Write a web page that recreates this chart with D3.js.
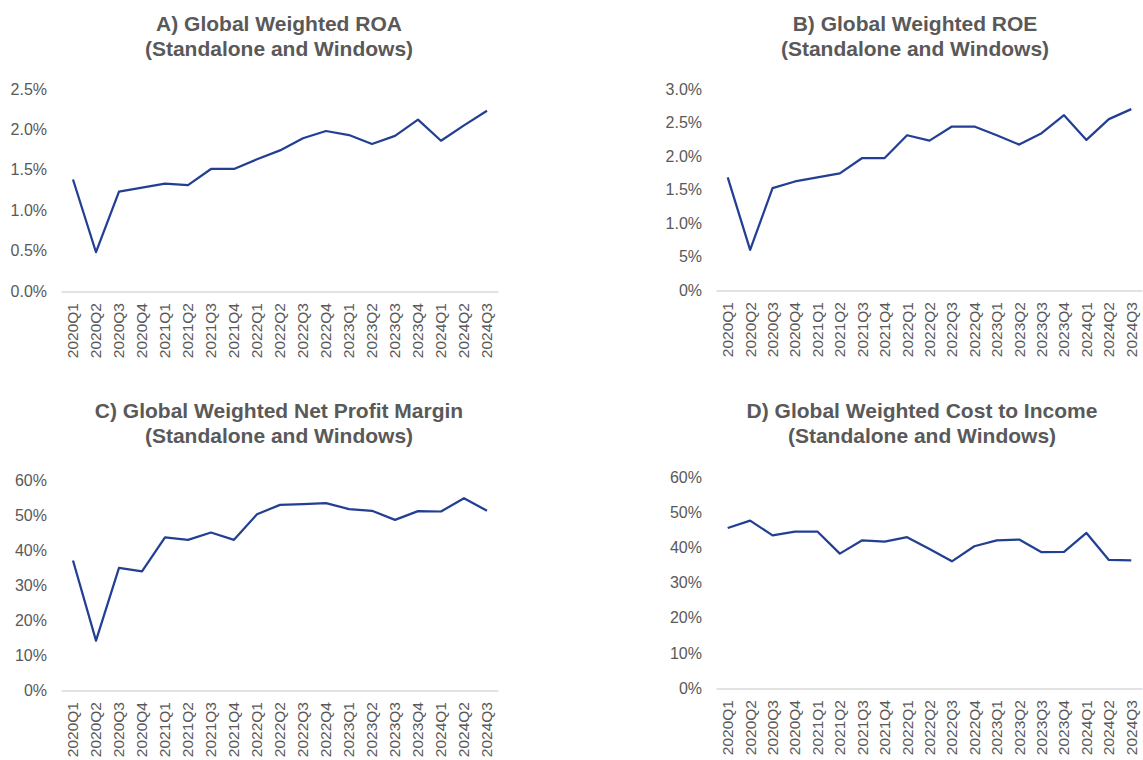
<!DOCTYPE html>
<html>
<head>
<meta charset="utf-8">
<script src="https://cdn.jsdelivr.net/npm/d3@7"></script>
<style>
  body { margin: 0; background: #fff; }
  svg { display: block; font-family: "Liberation Sans", Arial, sans-serif; }
</style>
</head>
<body>
<svg id="chart" width="1143" height="760"></svg>
<script>
// quarters shared by all four panels
var quarters = ["2020Q1","2020Q2","2020Q3","2020Q4","2021Q1","2021Q2","2021Q3","2021Q4",
  "2022Q1","2022Q2","2022Q3","2022Q4","2023Q1","2023Q2","2023Q3","2023Q4","2024Q1","2024Q2","2024Q3"];

// values in percent
var roa = [1.38,0.48,1.23,1.28,1.33,1.31,1.51,1.51,1.63,1.74,1.89,1.98,1.93,1.82,1.92,2.12,1.86,2.05,2.23];
var roe = [1.68,0.60,1.52,1.62,1.68,1.74,1.97,1.97,2.31,2.23,2.44,2.44,2.31,2.17,2.34,2.61,2.24,2.55,2.70];
var netMargin = [37.0,14.1,34.9,33.9,43.6,42.9,45.0,42.9,50.2,52.9,53.1,53.4,51.7,51.2,48.6,51.1,51.0,54.8,51.2];
var costIncome = [45.6,47.7,43.5,44.6,44.6,38.3,42.1,41.7,43.0,39.6,36.1,40.4,42.1,42.3,38.7,38.8,44.2,36.5,36.4];

// y ticks (labels as shown on the original)
var roaTicks = [0, 0.5, 1.0, 1.5, 2.0, 2.5];
var roaTickLabels = ["0.0%","0.5%","1.0%","1.5%","2.0%","2.5%"];
var roeTicks = [0, 0.5, 1.0, 1.5, 2.0, 2.5, 3.0];
var roeTickLabels = ["0%","5%","1.0%","1.5%","2.0%","2.5%","3.0%"];
var pctTicks = [0, 10, 20, 30, 40, 50, 60];
var pctTickLabels = ["0%","10%","20%","30%","40%","50%","60%"];

var svg = d3.select("#chart");

var panels = [
  { title: ["A) Global Weighted ROA", "(Standalone and Windows)"], titleX: 279, titleY: 31,
    values: roa, ticks: roaTicks, labels: roaTickLabels, max: 2.5,
    x0: 61.5, x1: 498.5, yBottom: 291, yTop: 89, labelRight: 47 },
  { title: ["B) Global Weighted ROE", "(Standalone and Windows)"], titleX: 915, titleY: 31,
    values: roe, ticks: roeTicks, labels: roeTickLabels, max: 3.0,
    x0: 716.5, x1: 1142.5, yBottom: 290, yTop: 89, labelRight: 702 },
  { title: ["C) Global Weighted Net Profit Margin", "(Standalone and Windows)"], titleX: 279, titleY: 418,
    values: netMargin, ticks: pctTicks, labels: pctTickLabels, max: 60,
    x0: 61.5, x1: 498.5, yBottom: 690, yTop: 480, labelRight: 47 },
  { title: ["D) Global Weighted Cost to Income", "(Standalone and Windows)"], titleX: 922, titleY: 418,
    values: costIncome, ticks: pctTicks, labels: pctTickLabels, max: 60,
    x0: 716.5, x1: 1142.5, yBottom: 688, yTop: 477.5, labelRight: 702 }
];

panels.forEach(function(p) {
  var g = svg.append("g");

  var x = d3.scaleBand().domain(quarters).range([p.x0, p.x1]);
  var y = d3.scaleLinear().domain([0, p.max]).range([p.yBottom, p.yTop]);

  // title
  var t = g.append("text")
    .attr("x", p.titleX).attr("y", p.titleY)
    .attr("text-anchor", "middle")
    .attr("font-size", "21px").attr("font-weight", "bold")
    .attr("fill", "#595959");
  p.title.forEach(function(line, i) {
    t.append("tspan").attr("x", p.titleX).attr("dy", i == 0 ? 0 : 25).text(line);
  });

  // y labels
  g.selectAll(".ylab").data(p.ticks).enter().append("text")
    .attr("x", p.labelRight)
    .attr("y", function(d) { return y(d); })
    .attr("dy", "0.35em")
    .attr("text-anchor", "end")
    .attr("font-size", "16px")
    .attr("fill", "#595959")
    .text(function(d, i) { return p.labels[i]; });

  // x axis line
  g.append("line")
    .attr("x1", p.x0).attr("x2", p.x1)
    .attr("y1", y(0) + 1).attr("y2", y(0) + 1)
    .attr("stroke", "#d9d9d9").attr("stroke-width", 1.5);

  // x labels, rotated
  g.selectAll(".xlab").data(quarters).enter().append("text")
    .attr("transform", function(d) {
      return "translate(" + (x(d) + x.bandwidth() / 2) + "," + (y(0) + 12) + ") rotate(-90)";
    })
    .attr("dy", "0.35em")
    .attr("text-anchor", "end")
    .attr("font-size", "15.5px")
    .attr("fill", "#595959")
    .text(function(d) { return d; });

  // line
  var line = d3.line()
    .x(function(d, i) { return x(quarters[i]) + x.bandwidth() / 2; })
    .y(function(d) { return y(d); });

  g.append("path")
    .datum(p.values)
    .attr("d", line)
    .attr("fill", "none")
    .attr("stroke", "#223f94")
    .attr("stroke-width", 2.25)
    .attr("stroke-linejoin", "round");
});
</script>
</body>
</html>
